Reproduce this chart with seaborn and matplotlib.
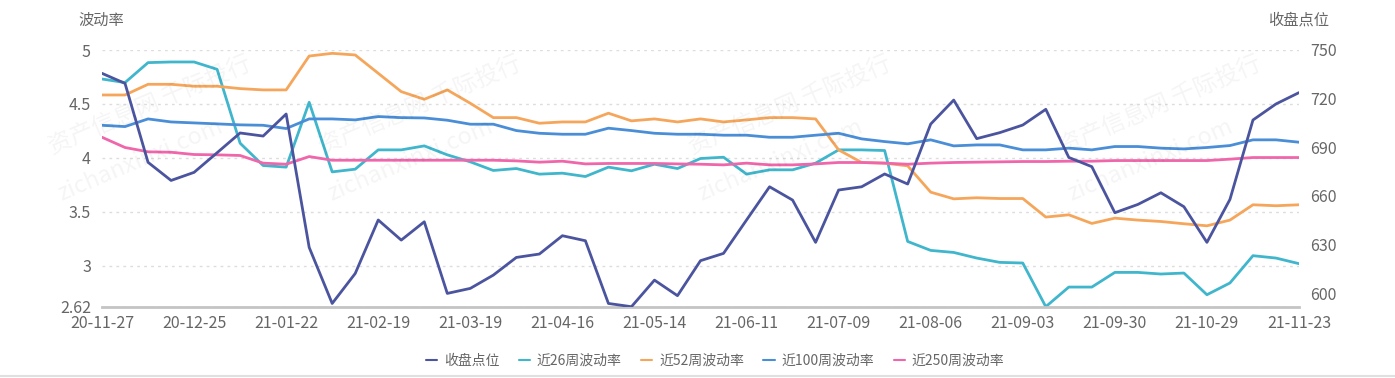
import numpy as np
import pandas as pd
import matplotlib.pyplot as plt
import seaborn as sns

# weekly dates (x categories)
dates = ['20-11-27', '20-12-04', '20-12-11', '20-12-18', '20-12-25', '20-12-31',
         '21-01-08', '21-01-15', '21-01-22', '21-01-29', '21-02-05', '21-02-10',
         '21-02-19', '21-02-26', '21-03-05', '21-03-12', '21-03-19', '21-03-26',
         '21-04-02', '21-04-09', '21-04-16', '21-04-23', '21-04-30', '21-05-07',
         '21-05-14', '21-05-21', '21-05-28', '21-06-04', '21-06-11', '21-06-18',
         '21-06-25', '21-07-02', '21-07-09', '21-07-16', '21-07-23', '21-07-30',
         '21-08-06', '21-08-13', '21-08-20', '21-08-27', '21-09-03', '21-09-10',
         '21-09-17', '21-09-24', '21-09-30', '21-10-08', '21-10-15', '21-10-22',
         '21-10-29', '21-11-05', '21-11-12', '21-11-19', '21-11-23']

close = [735.6, 729.4, 680.7, 669.5, 674.5, 686.6, 698.8, 696.9, 710.5, 628.2,
         593.6, 612.1, 645.1, 632.7, 644.0, 599.8, 602.9, 611.1, 622.0, 624.1,
         635.4, 632.3, 593.6, 591.6, 608.0, 598.4, 620.0, 624.5, 645.1, 665.6,
         657.4, 631.3, 663.6, 665.6, 673.5, 667.3, 704.3, 719.1, 695.3, 699.0,
         703.7, 713.4, 683.7, 678.0, 649.6, 654.7, 661.9, 653.3, 631.3, 657.8,
         706.8, 716.7, 723.7]

vol26 = [4.731, 4.698, 4.883, 4.889, 4.889, 4.821, 4.136, 3.929, 3.914, 4.515,
         3.870, 3.895, 4.074, 4.074, 4.111, 4.028, 3.963, 3.883, 3.901, 3.849,
         3.858, 3.827, 3.914, 3.880, 3.941, 3.901, 3.994, 4.006, 3.849, 3.889,
         3.889, 3.951, 4.074, 4.074, 4.068, 3.225, 3.142, 3.123, 3.071, 3.031,
         3.025, 2.620, 2.802, 2.802, 2.938, 2.938, 2.923, 2.932, 2.731, 2.840,
         3.093, 3.071, 3.019]

vol52 = [4.583, 4.583, 4.682, 4.682, 4.664, 4.664, 4.642, 4.630, 4.630, 4.944,
         4.969, 4.954, 4.784, 4.614, 4.543, 4.630, 4.506, 4.373, 4.373, 4.321,
         4.333, 4.333, 4.414, 4.343, 4.361, 4.333, 4.361, 4.333, 4.352, 4.373,
         4.373, 4.361, 4.074, 3.957, 3.951, 3.926, 3.682, 3.620, 3.630, 3.623,
         3.623, 3.451, 3.472, 3.392, 3.441, 3.423, 3.410, 3.389, 3.370, 3.423,
         3.565, 3.556, 3.565]

vol100 = [4.302, 4.290, 4.361, 4.333, 4.324, 4.315, 4.306, 4.302, 4.272, 4.361,
          4.361, 4.352, 4.383, 4.373, 4.370, 4.349, 4.312, 4.312, 4.253, 4.228,
          4.219, 4.219, 4.275, 4.253, 4.228, 4.219, 4.219, 4.210, 4.210, 4.191,
          4.191, 4.210, 4.228, 4.176, 4.151, 4.130, 4.167, 4.111, 4.120, 4.120,
          4.074, 4.074, 4.090, 4.074, 4.105, 4.105, 4.090, 4.083, 4.096, 4.114,
          4.167, 4.167, 4.145]

vol250 = [4.191, 4.096, 4.056, 4.052, 4.031, 4.028, 4.022, 3.951, 3.941, 4.012,
          3.978, 3.978, 3.978, 3.978, 3.978, 3.978, 3.978, 3.978, 3.972, 3.960,
          3.969, 3.944, 3.948, 3.948, 3.948, 3.944, 3.941, 3.935, 3.951, 3.935,
          3.935, 3.944, 3.957, 3.957, 3.951, 3.941, 3.951, 3.957, 3.960, 3.963,
          3.966, 3.966, 3.969, 3.969, 3.975, 3.975, 3.975, 3.975, 3.975, 3.988,
          4.003, 4.003, 4.003]

names = ['收盘点位', '近26周波动率', '近52周波动率', '近100周波动率', '近250周波动率']
colors = ['#4b549e', '#3fb6cc', '#f5a65b', '#4a8ed8', '#f066ab']

df = pd.DataFrame({'date': dates, names[0]: close, names[1]: vol26,
                   names[2]: vol52, names[3]: vol100, names[4]: vol250})
df['idx'] = np.arange(len(df))

sns.set_style('white')
plt.rcParams['font.family'] = ['Noto Sans CJK SC', 'DejaVu Sans']
txt = '#666666'

fig = plt.figure(figsize=(13.95, 3.78), dpi=100)
ax = fig.add_axes([102 / 1395, 1 - 306.7 / 378, 1197 / 1395, 256.7 / 378])
ax2 = ax.twinx()

for name, c in zip(names[1:], colors[1:]):
    sns.lineplot(data=df, x='idx', y=name, ax=ax, color=c, linewidth=2, legend=False)
sns.lineplot(data=df, x='idx', y=names[0], ax=ax2, color=colors[0], linewidth=2, legend=False)

ax.set_xlim(0, len(df) - 1)
ax.set_ylim(2.62, 5)
ax2.set_ylim(591.6, 750)

ax.set_yticks([2.62, 3, 3.5, 4, 4.5, 5])
ax.set_yticklabels(['2.62', '3', '3.5', '4', '4.5', '5'])
ax2.set_yticks([600, 630, 660, 690, 720, 750])
ax.set_xticks(df['idx'][::4])
ax.set_xticklabels(df['date'][::4])

ax.set_xlabel('')
ax.set_ylabel('')
ax2.set_ylabel('')

ax.tick_params(axis='both', length=0, labelsize=11.5, colors=txt)
ax.tick_params(axis='y', pad=8)
ax.tick_params(axis='x', pad=6)
ax2.tick_params(axis='y', length=0, labelsize=11.5, colors=txt, pad=8)

ax.yaxis.grid(True, color='#dddddd', linestyle=(0, (2, 3)), linewidth=1)
ax.xaxis.grid(False)
for a in (ax, ax2):
    for s in ('top', 'left', 'right'):
        a.spines[s].set_visible(False)
ax2.spines['bottom'].set_visible(False)
ax.spines['bottom'].set_color('#c4c4c4')
ax.spines['bottom'].set_linewidth(2)

fig.text(101 / 1395, 1 - 20 / 378, '波动率', ha='center', va='center', fontsize=11, color=txt)
fig.text(1299 / 1395, 1 - 20 / 378, '收盘点位', ha='center', va='center', fontsize=11, color=txt)

handles = [plt.Line2D([], [], color=c, linewidth=1.5) for c in colors]
fig.legend(handles, names, loc='center', bbox_to_anchor=(715 / 1395, 1 - 361 / 378),
           ncol=5, frameon=False, fontsize=10, labelcolor=txt,
           handlelength=0.8, handletextpad=0.5, columnspacing=1.4)

# faint watermark, kept inside the canvas
for cx in [150, 420, 790, 1160]:
    fig.text(cx / 1395, 1 - 105 / 378, '资产信息网 千际投行', rotation=23, ha='center', va='center',
             fontsize=17, color='#000000', alpha=0.045)
    fig.text((cx - 10) / 1395, 1 - 160 / 378, 'zichanxinxi.com', rotation=23, ha='center', va='center',
             fontsize=17, color='#000000', alpha=0.045)

fig.add_artist(plt.Line2D([0, 1], [0.004, 0.004], color='#e0e0e0', linewidth=1.5))

fig.savefig('out.png', dpi=100)
